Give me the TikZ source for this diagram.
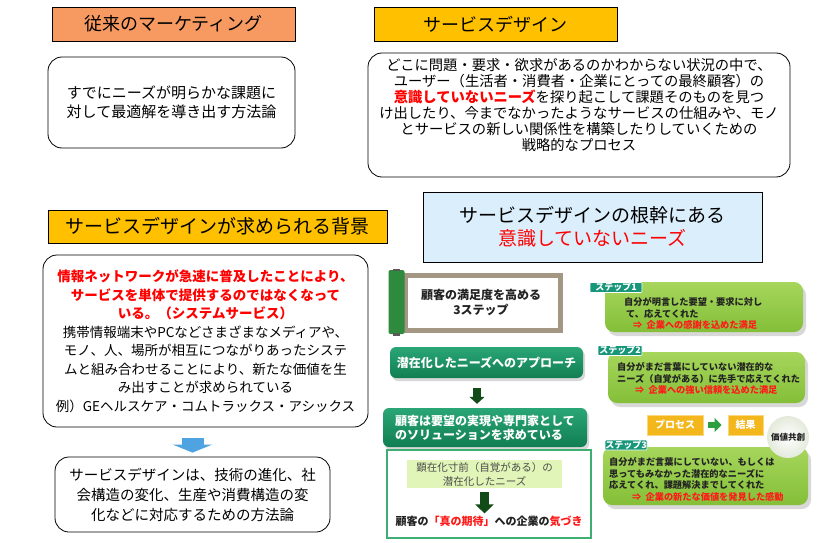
\documentclass[tikz,border=0pt]{standalone}
\usepackage{fontspec}
\setmainfont{Noto Sans CJK JP}
\usetikzlibrary{shadows,arrows.meta}
\definecolor{torange}{HTML}{F79A62}
\definecolor{tyellow}{HTML}{FFC000}
\definecolor{tblue}{HTML}{DAEEFB}
\definecolor{jred}{HTML}{FF0000}
\definecolor{gred}{HTML}{FF1A1A}
\definecolor{dgreen}{HTML}{117E52}
\definecolor{lgreen}{HTML}{2AA676}
\definecolor{stepg}{HTML}{84BF38}
\definecolor{stepl}{HTML}{A6D65C}
\definecolor{tagc}{HTML}{17967A}
\definecolor{lime}{HTML}{E2F5B8}
\definecolor{arrowg}{HTML}{124A18}
\definecolor{procc}{HTML}{F3B61B}
\definecolor{procb}{HTML}{F9D77E}
\definecolor{scrollf}{HTML}{A39683}
\definecolor{rollg}{HTML}{2E8B3E}
\definecolor{frameg}{HTML}{3FAE72}
\definecolor{arrowb}{HTML}{4FA3E0}
\definecolor{pgreen}{HTML}{2E9E3E}
\definecolor{vcfill}{HTML}{E3EADB}
\definecolor{dtext}{HTML}{222222}
\tikzset{
  titlebox/.style={draw=black, line width=0.8pt, align=center, inner sep=0pt},
  wbox/.style={draw=black, line width=0.8pt, rounded corners=14pt, fill=white, align=center, inner sep=0pt},
  gbar/.style={rounded corners=6pt, top color=lgreen, bottom color=dgreen, text=white, inner sep=0pt,
    font=\bfseries\fontsize{12}{14}\selectfont, drop shadow={opacity=0.3, shadow xshift=2pt, shadow yshift=-3pt}},
  stepbox/.style={rounded corners=9pt, top color=stepl, bottom color=stepg, inner sep=0pt,
    drop shadow={opacity=0.3, shadow xshift=3pt, shadow yshift=-4pt}},
  steptext/.style={anchor=west, align=left, text=dtext, inner sep=0pt, font=\bfseries\fontsize{9.2}{11.6}\selectfont},
  tagbox/.style={fill=tagc, draw=white, line width=0.6pt, rounded corners=1pt, text=white, inner sep=0pt,
    font=\bfseries\fontsize{9}{9}\selectfont},
  procbox/.style={fill=procc, draw=procb, line width=1pt, text=white, inner sep=0pt, font=\bfseries\fontsize{10}{11}\selectfont},
}
\begin{document}
\begin{tikzpicture}[x=1pt,y=-1pt]
\useasboundingbox (0,0) rectangle (819,543);
\fill[white] (0,0) rectangle (819,543);

% left column
\node[titlebox, fill=torange, minimum width=243pt, minimum height=34pt, font=\fontsize{18}{20}\selectfont] (t1) at (173.5,24) {従来のマーケティング};
\node[wbox, minimum width=247pt, minimum height=91pt, font=\fontsize{15}{19.5}\selectfont] (b1) at (171.5,102.5) {すでにニーズが明らかな課題に\\対して最適解を導き出す方法論};

\node[titlebox, fill=tyellow, minimum width=339pt, minimum height=33pt, font=\fontsize{19}{21}\selectfont] (t3) at (217.5,226.5) {サービスデザインが求められる背景};
\node[wbox, minimum width=325pt, minimum height=172pt, font=\fontsize{13.5}{18.5}\selectfont] (b3) at (205.5,341) {%
\textcolor{jred}{\bfseries 情報ネットワークが急速に普及したことにより、}\\
\textcolor{jred}{\bfseries サービスを単体で提供するのではなくなって}\\
\textcolor{jred}{\bfseries いる。（システムサービス）}\\
携帯情報端末やPCなどさまざまなメディアや、\\
モノ、人、場所が相互につながりあったシステ\\
ムと組み合わせることにより、新たな価値を生\\
み出すことが求められている\\
例）GEヘルスケア・コムトラックス・アシックス};

\node[wbox, minimum width=275pt, minimum height=75pt, font=\fontsize{14.5}{20}\selectfont] (b4) at (192.5,494.5) {サービスデザインは、技術の進化、社\\会構造の変化、生産や消費構造の変\\化などに対応するための方法論};
\draw[arrowb, line width=22pt, -{Triangle[width=39pt,length=8pt]}, shorten <=11pt, shorten >=4pt] (b4.north |- b3.south) -- (b4.north);

% top right
\node[titlebox, fill=tyellow, minimum width=243pt, minimum height=34pt, font=\fontsize{18}{20}\selectfont] (t2) at (495.5,24) {サービスデザイン};
\node[wbox, minimum width=422pt, minimum height=124pt] (b2) at (579,115) {};
\node[align=center, inner sep=0pt, font=\fontsize{14.3}{16.1}\selectfont] (b2t) at (579,105) {%
どこに問題・要求・欲求があるのかわからない状況の中で、\\
ユーザー（生活者・消費者・企業にとっての最終顧客）の\\
\textcolor{jred}{\bfseries 意識していないニーズ}を探り起こして課題そのものを見つ\\
け出したり、今までなかったようなサービスの仕組みや、モノ\\
とサービスの新しい関係性を構築したりしていくための\\
戦略的なプロセス};

\node[titlebox, fill=tblue, minimum width=339pt, minimum height=70pt, font=\fontsize{19}{23}\selectfont] (t4) at (592.5,227) {サービスデザインの根幹にある\\\textcolor{jred}{意識していないニーズ}};

% scroll
\draw[scrollf, line width=5pt, fill=white] (405.5,275.5) rectangle (560.5,330.5);
\node[fill=rollg, rounded corners=2pt, minimum width=16pt, minimum height=64pt, inner sep=0pt] (roll) at (396.5,302) {};
\fill[gray!70!black] (393,268.5) rectangle (400,271);
\fill[gray!70!black] (393,333) rectangle (400,335.5);
\node[align=center, inner sep=0pt, text=dtext, font=\bfseries\fontsize{12}{15}\selectfont] (sc) at (481,302.5) {顧客の満足度を高める\\3ステップ};

% green column
\node[gbar, minimum width=193pt, minimum height=31pt] (ap) at (486.5,362.5) {潜在化したニーズへのアプローチ};
\node[gbar, minimum width=204pt, minimum height=39pt, align=left] (sol) at (485,427.5) {顧客は要望の実現や専門家として\\のソリューションを求めている};
\coordinate (a1) at (477,388);
\draw[arrowg, line width=8pt, -{Triangle[width=15pt,length=7pt]}, shorten >=4pt] (a1) -- (a1 |- sol.north);

\node[draw=frameg, line width=1.5pt, fill=white, minimum width=204pt, minimum height=88pt, inner sep=0pt] (fb) at (489,494) {};
\node[fill=lime, minimum width=155pt, minimum height=28pt, inner sep=0pt, align=center, text=black!70, font=\fontsize{10.5}{14}\selectfont] (lb) at (484.5,474) {顕在化寸前（自覚がある）の\\潜在化したニーズ};
\node[inner sep=0pt, text=dtext, font=\bfseries\fontsize{11}{13}\selectfont] (kz) at (489,521) {顧客の\textcolor{gred}{「真の期待」}への企業の\textcolor{gred}{気づき}};
\draw[arrowg, line width=9pt, -{Triangle[width=18pt,length=9pt]}, shorten <=4pt, shorten >=2pt] (lb.south) -- (lb.south |- kz.north);

% steps
\node[stepbox, minimum width=198pt, minimum height=50pt] (st1) at (704,307) {};
\node[tagbox, minimum width=52pt, minimum height=10pt] (tg1) at (616,287.5) {ステップ1};
\node[steptext] (st1t) at (624,313.5) {自分が明言した要望・要求に対し\\\hspace{2pt}て、応えてくれた\\\hspace{9pt}\textcolor{gred}{⇒\ \ 企業への感謝を込めた満足}};

\node[stepbox, minimum width=197pt, minimum height=51pt] (st2) at (706.5,377.5) {};
\node[tagbox, minimum width=44pt, minimum height=10pt] (tg2) at (620,350.5) {ステップ2};
\node[steptext] (st2t) at (617,378.5) {自分がまだ言葉にしていない潜在的な\\ニーズ（自覚がある）に先手で応えてくれた\\\hspace{18pt}\textcolor{gred}{⇒\ \ 企業への強い信頼を込めた満足}};

\node[procbox, minimum width=56pt, minimum height=20pt] (pr) at (675,425) {プロセス};
\node[procbox, minimum width=35pt, minimum height=20pt] (kk) at (745.5,425) {結果};
\draw[pgreen, line width=6pt, -{Triangle[width=14pt,length=7pt]}, shorten <=4pt, shorten >=6pt] (pr.east) -- (kk.west);

\node[stepbox, minimum width=205pt, minimum height=58pt] (st3) at (705.5,476) {};
\node[tagbox, minimum width=42pt, minimum height=10pt] (tg3) at (626,445) {ステップ3};
\node[steptext] (st3t) at (609,479.5) {自分がまだ言葉にしていない、もしくは\\思ってもみなかった潜在的なニーズに\\応えてくれ、課題解決までしてくれた\\\hspace{23pt}\textcolor{gred}{⇒\ \ 企業の新たな価値を発見した感動}};
\node[circle, inner color=white, outer color=vcfill, minimum size=42pt, inner sep=0pt, text=dtext, font=\bfseries\fontsize{8.5}{9}\selectfont] (vc) at (788,437) {価値共創};
\end{tikzpicture}
\end{document}
